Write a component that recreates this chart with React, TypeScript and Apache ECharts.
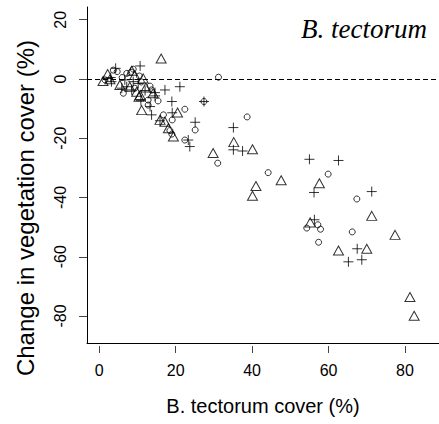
import React, { useEffect, useRef } from "react";
import * as echarts from "echarts";

const circleX = [4.7, 1.5, 7.2, 8.3, 8.9, 6.3, 9.3, 13.3, 13.7, 15.4, 12.8, 12.8, 16.8, 22.4, 19.1, 25.1, 18.5, 19.0, 22.4, 31.2, 27.4, 31.0, 38.7, 44.2, 59.9, 67.4, 54.3, 57.2, 57.9, 66.2, 57.4, 3.7, 10.5, 6.0, 11.0];
const circleY = [2.5, -0.3, 1.9, 2.3, 3.3, -4.8, -3.1, -2.4, -3.7, -7.4, -7.1, -8.8, -12.1, -10.2, -13.8, -17.2, -17.4, -18.6, -20.6, 0.6, -7.6, -28.4, -12.8, -31.6, -32.1, -40.5, -50.3, -49.2, -50.7, -51.6, -55.1, 3.0, 1.0, 0.5, -1.0];

const triX = [16.2, 2.2, 2.8, 1.0, 8.5, 9.3, 11.5, 5.4, 8.0, 9.8, 12.2, 14.1, 10.7, 10.4, 11.1, 20.5, 15.9, 17.2, 18.1, 19.4, 29.8, 35.2, 40.1, 41.0, 40.1, 47.6, 57.6, 71.3, 55.2, 77.4, 62.6, 70.0, 81.3, 82.4];
const triY = [6.9, 1.7, -0.1, -0.7, 2.8, 1.3, 0.2, -2.0, -2.6, -4.3, -2.9, -4.8, -5.4, -6.0, -10.5, -11.3, -13.8, -14.4, -16.6, -19.4, -25.0, -21.3, -23.7, -36.1, -39.4, -34.2, -35.2, -46.2, -48.4, -52.6, -57.9, -57.3, -73.6, -79.9];

const plusX = [4.3, 10.7, 3.2, 6.7, 8.9, 10.2, 5.9, 7.2, 8.5, 12.0, 14.6, 17.2, 21.1, 10.9, 14.6, 19.0, 27.4, 13.3, 13.7, 19.1, 15.9, 25.1, 23.3, 23.7, 35.1, 35.1, 37.5, 55.0, 62.6, 56.2, 71.3, 56.3, 67.5, 65.2, 68.7, 3.0];
const plusY = [3.6, 4.4, -0.9, -0.3, -0.9, -1.5, -3.1, -2.6, -3.7, -3.9, -4.6, -3.7, -2.6, -7.3, -5.7, -7.6, -7.6, -9.3, -12.1, -11.4, -14.1, -14.6, -20.6, -22.8, -16.4, -23.9, -24.3, -27.1, -27.5, -38.3, -38.0, -47.5, -57.3, -61.7, -61.0, 0.5];

const xTicks = [0, 20, 40, 60, 80];
const yTicks = [-80, -60, -40, -20, 0, 20];

const title = "B. tectorum";
const xTitle = "B. tectorum cover (%)";
const yTitle = "Change in vegetation cover (%)";

const zip = (xs: number[], ys: number[]) => xs.map((x, i) => [x, ys[i]]);

export default function App() {
  const ref = useRef<HTMLDivElement>(null);
  useEffect(() => {
    if (!ref.current) return;
    const chart = echarts.init(ref.current, null, { renderer: "svg" });
    const font = "Liberation Sans";
    const markerStyle = { color: "none", borderColor: "#000", borderWidth: 1 };
    chart.setOption({
      animation: false,
      title: {
        text: title,
        right: 7,
        top: 10,
        textStyle: { fontFamily: "Liberation Serif", fontStyle: "italic", fontWeight: "normal", fontSize: 27, color: "#000" },
      },
      graphic: [
        {
          type: "text", x: 25, y: 208, rotation: Math.PI / 2,
          style: { text: yTitle, fontFamily: font, fontSize: 24, fill: "#000", align: "center", verticalAlign: "middle" },
        },
      ],
      grid: { left: 87, right: 0, top: 7, bottom: 81 },
      xAxis: [
        {
          type: "value", min: -3.2, max: 88.9,
          axisLine: { show: true, onZero: false, lineStyle: { color: "#000", width: 1 } },
          axisTick: { show: false }, axisLabel: { show: false }, splitLine: { show: false },
        },
        {
          type: "value", min: -3.2, max: 88.9, position: "bottom", offset: 3,
          axisLine: { show: false, onZero: false },
          axisTick: { show: true, length: 7, customValues: xTicks, lineStyle: { color: "#444" } },
          axisLabel: { customValues: xTicks, fontFamily: font, fontSize: 16, color: "#000", margin: 16 },
          splitLine: { show: false },
          name: xTitle, nameLocation: "middle", nameGap: 50,
          nameTextStyle: { fontFamily: font, fontSize: 20, color: "#000" },
        },
      ],
      yAxis: {
        type: "value", min: -89.1, max: 24.3,
        axisLine: { show: true, onZero: false, lineStyle: { color: "#000", width: 1 } },
        axisTick: { show: true, length: 8, customValues: yTicks, lineStyle: { color: "#444" } },
        axisLabel: { customValues: yTicks, rotate: 90, fontFamily: font, fontSize: 16, color: "#000", margin: 19 },
        splitLine: { show: false },
      },
      series: [
        {
          type: "scatter", data: zip(circleX, circleY), symbol: "circle", symbolSize: 6,
          itemStyle: markerStyle,
          markLine: {
            silent: true, symbol: ["none", "none"], label: { show: false },
            lineStyle: { color: "#000", type: [5, 3], width: 1 },
            emphasis: { disabled: true },
            data: [{ yAxis: 0 }],
          },
        },
        {
          type: "scatter", data: zip(triX, triY), symbol: "triangle", symbolSize: [10, 9],
          itemStyle: markerStyle,
        },
        {
          type: "scatter", data: zip(plusX, plusY), symbol: "path://M0,5L10,5M5,0L5,10", symbolSize: 10,
          itemStyle: markerStyle,
        },
      ],
    });
    return () => chart.dispose();
  }, []);
  return <div ref={ref} style={{ position: "fixed", left: 0, top: 0, width: 439, height: 424, background: "#fff" }} />;
}
